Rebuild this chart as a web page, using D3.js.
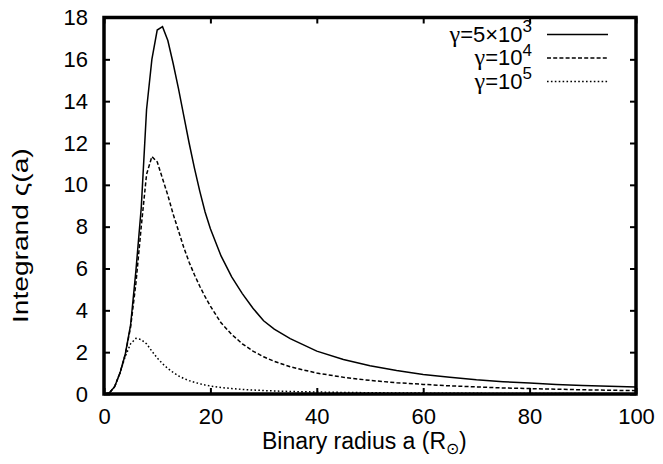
<!DOCTYPE html>
<html>
<head>
<meta charset="utf-8">
<script src="https://cdn.jsdelivr.net/npm/d3@7"></script>
<style>
  body { margin: 0; background: #fff; }
  svg { display: block; }
  text { font-family: "Liberation Sans", Arial, sans-serif; fill: #000; }
  .greek { font-family: "Liberation Serif", "DejaVu Serif", serif; }
</style>
</head>
<body>
<div id="chart"></div>
<script>
// binary radius a (R_sun) where the integrand was sampled
var radius = [0, 1, 2, 3, 4, 5, 6, 7, 8, 9, 10, 11, 12, 13, 14, 15, 16, 17, 18, 19, 20,
  22, 24, 26, 28, 30, 32, 35, 40, 45, 50, 55, 60, 65, 70, 75, 80, 85, 90, 95, 100];

// gamma = 5x10^3
var gamma5e3 = [0, 0.05, 0.35, 1.0, 1.9, 3.3, 5.9, 8.9, 13.6, 16.0, 17.4, 17.56, 16.9, 15.8, 14.6, 13.3, 12.0, 10.8, 9.7, 8.7, 7.9,
  6.6, 5.6, 4.8, 4.1, 3.5, 3.1, 2.65, 2.05, 1.65, 1.35, 1.12, 0.93, 0.80, 0.68, 0.59, 0.52, 0.46, 0.41, 0.37, 0.33];
// gamma = 10^4
var gamma1e4 = [0, 0.05, 0.35, 1.0, 1.9, 3.2, 5.3, 8.0, 10.5, 11.35, 11.1, 10.3, 9.5, 8.6, 7.8, 7.0, 6.3, 5.7, 5.15, 4.65, 4.2,
  3.4, 2.85, 2.4, 2.05, 1.78, 1.56, 1.3, 1.0, 0.8, 0.65, 0.54, 0.46, 0.39, 0.34, 0.29, 0.26, 0.23, 0.2, 0.18, 0.16];
// gamma = 10^5
var gamma1e5 = [0, 0.05, 0.35, 1.0, 1.8, 2.4, 2.66, 2.6, 2.4, 2.05, 1.72, 1.45, 1.22, 1.03, 0.87, 0.74, 0.64, 0.56, 0.49, 0.43, 0.38,
  0.31, 0.26, 0.22, 0.19, 0.165, 0.145, 0.12, 0.095, 0.075, 0.06, 0.05, 0.042, 0.036, 0.031, 0.027, 0.024, 0.021, 0.019, 0.017, 0.015];

var xTicks = [0, 20, 40, 60, 80, 100];
var yTicks = [0, 2, 4, 6, 8, 10, 12, 14, 16, 18];

var series = [
  {base: "=5×10", sup: "3", values: gamma5e3, dash: null},
  {base: "=10", sup: "4", values: gamma1e4, dash: "4,2.2"},
  {base: "=10", sup: "5", values: gamma1e5, dash: "1.6,2.3"}
];

var width = 663, height = 464;
var margin = {top: 17.5, right: 27, bottom: 70, left: 104};
var innerW = width - margin.left - margin.right,
    innerH = height - margin.top - margin.bottom;

var svg = d3.select("#chart").append("svg")
  .attr("width", width)
  .attr("height", height);

var g = svg.append("g")
  .attr("transform", "translate(" + margin.left + "," + margin.top + ")");

var x = d3.scaleLinear().domain([0, 100]).range([0, innerW]);
var y = d3.scaleLinear().domain([0, 18]).range([innerH, 0]);

// ticks, mirrored on all four sides, pointing inward
function styleAxis(sel, showLabels) {
  sel.select(".domain").remove();
  sel.selectAll(".tick line").attr("stroke", "#000").attr("stroke-width", 2);
  sel.selectAll(".tick text")
    .style("font-size", "22px")
    .attr("fill", "#000");
  if (!showLabels) sel.selectAll(".tick text").remove();
}

g.append("g")
  .attr("transform", "translate(0," + innerH + ")")
  .call(d3.axisBottom(x).tickValues(xTicks).tickSizeInner(-6).tickSizeOuter(0).tickPadding(14.5))
  .call(styleAxis, true);

g.append("g")
  .call(d3.axisTop(x).tickValues(xTicks).tickSizeInner(-6).tickSizeOuter(0))
  .call(styleAxis, false);

g.append("g")
  .call(d3.axisLeft(y).tickValues(yTicks).tickSizeInner(-6).tickSizeOuter(0).tickPadding(16))
  .call(styleAxis, true);

g.append("g")
  .attr("transform", "translate(" + innerW + ",0)")
  .call(d3.axisRight(y).tickValues(yTicks).tickSizeInner(-6).tickSizeOuter(0))
  .call(styleAxis, false);

// curves
var line = d3.line()
  .x(function (d, i) { return x(radius[i]); })
  .y(function (d) { return y(d); });

g.selectAll("path.curve")
  .data(series)
  .enter()
  .append("path")
  .attr("class", "curve")
  .attr("fill", "none")
  .attr("stroke", "#000")
  .attr("stroke-width", 1.5)
  .attr("stroke-dasharray", function (d) { return d.dash; })
  .attr("d", function (d) { return line(d.values); });

// frame
g.append("rect")
  .attr("width", innerW)
  .attr("height", innerH)
  .attr("fill", "none")
  .attr("stroke", "#000")
  .attr("stroke-width", 3.5);

// legend
var legend = g.append("g").attr("class", "legend");
var rows = legend.selectAll("g.row")
  .data(series)
  .enter()
  .append("g")
  .attr("class", "row")
  .attr("transform", function (d, i) { return "translate(0," + (24 + i * 23.5) + ")"; });

rows.append("line")
  .attr("x1", 443).attr("x2", 504)
  .attr("y1", -7).attr("y2", -7)
  .attr("stroke", "#000")
  .attr("stroke-width", 1.5)
  .attr("stroke-dasharray", function (d) { return d.dash; });

var lt = rows.append("text")
  .attr("x", 428)
  .attr("text-anchor", "end")
  .style("font-size", "22px");
lt.append("tspan").attr("class", "greek").style("font-size", "24px").text("γ");
lt.append("tspan").text(function (d) { return d.base; });
lt.append("tspan")
  .attr("dy", -9.5)
  .style("font-size", "17px")
  .text(function (d) { return d.sup; });

// axis titles
var xl = svg.append("text")
  .attr("x", 262)
  .attr("y", 449)
  .style("font-size", "23px");
xl.append("tspan").text("Binary radius a (R");
xl.append("tspan").attr("dy", 5).style("font-size", "16px").text("⊙");
xl.append("tspan").attr("dy", -5).text(")");

// the original y title is drawn stretched along its length
svg.append("text")
  .attr("transform", "translate(28,323) rotate(-90) scale(1.28,1)")
  .attr("text-anchor", "start")
  .style("font-size", "22px")
  .text("Integrand ς(a)");
</script>
</body>
</html>
